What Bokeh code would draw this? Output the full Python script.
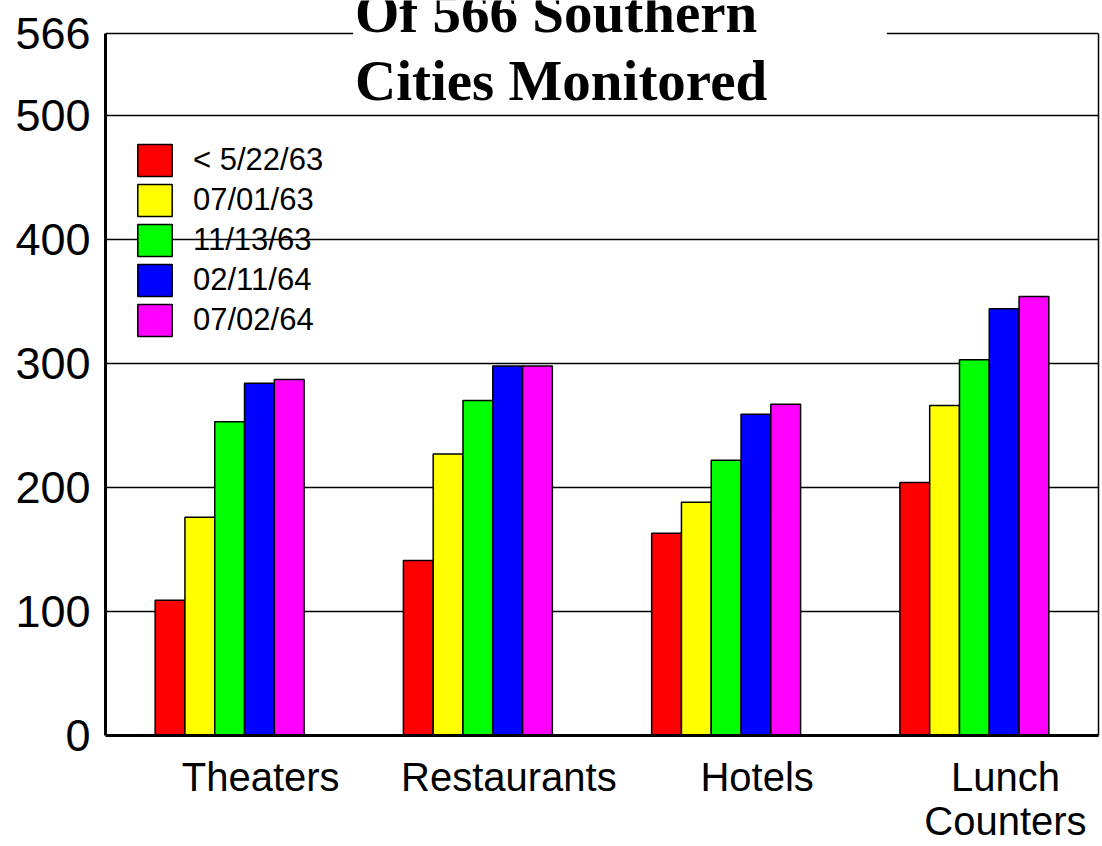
from bokeh.plotting import figure
from bokeh.models import Range1d, FixedTicker, Label, ColumnDataSource, LinearAxis
from bokeh.transform import dodge
from bokeh.embed import file_html
from bokeh.resources import INLINE

# ---- data ----
categories = ["Theaters", "Restaurants", "Hotels", "Lunch\nCounters"]
series_labels = ["< 5/22/63", "07/01/63", "11/13/63", "02/11/64", "07/02/64"]
before_05_22_63 = [109, 141, 163, 204]
on_07_01_63 = [176, 227, 188, 266]
on_11_13_63 = [253, 270, 222, 303]
on_02_11_64 = [284, 298, 259, 344]
on_07_02_64 = [287, 298, 267, 354]
y_ticks = [0, 100, 200, 300, 400, 500, 566]
total_cities = 566
title_lines = ["Of 566 Southern", "Cities Monitored"]

series_values = [before_05_22_63, on_07_01_63, on_11_13_63, on_02_11_64, on_07_02_64]
colors = ["#FF0000", "#FFFF00", "#00FF00", "#0000FF", "#FF00FF"]

SANS = "Liberation Sans"
SERIF = "Liberation Serif"

source = ColumnDataSource(dict(
    idx=list(range(len(categories))),
    **{f"s{k}": vals for k, vals in enumerate(series_values)},
))

# layout: frame from page top to y=735; value 566 sits 33 px below the page top
frame_h = 735
top_gap = 33
y_top = total_cities * frame_h / (frame_h - top_gap)

x_start, x_end = -0.5, len(categories) - 0.5
p = figure(width=1102, height=846,
           x_range=Range1d(x_start, x_end), y_range=Range1d(0, y_top),
           output_backend="svg", toolbar_location=None,
           min_border_left=105, min_border_right=4,
           min_border_top=0, min_border_bottom=111,
           outline_line_color=None, background_fill_color="white",
           border_fill_color="white")

bar_w = 0.12
n = len(series_values)
for k in range(n):
    off = (k - (n - 1) / 2) * bar_w
    p.vbar(x=dodge("idx", off), top=f"s{k}", width=bar_w, source=source,
           fill_color=colors[k], line_color="black", line_width=1.5,
           legend_label=series_labels[k])

# axes
xa = p.xaxis[0]
label_shift = 0.125
xa.ticker = FixedTicker(ticks=[i + label_shift for i in range(len(categories))])
xa.major_label_overrides = {i + label_shift: c for i, c in enumerate(categories)}
xa.major_tick_line_color = None
xa.minor_tick_line_color = None
xa.axis_line_color = "black"
xa.axis_line_width = 3
xa.major_label_text_font = SANS
xa.major_label_text_font_size = "40px"
xa.major_label_text_color = "black"
xa.major_label_text_line_height = 1.0
xa.major_label_standoff = 13

ya = p.yaxis[0]
ya.ticker = FixedTicker(ticks=y_ticks)
ya.bounds = (0, total_cities)
ya.major_tick_line_color = None
ya.minor_tick_line_color = None
ya.axis_line_color = "black"
ya.axis_line_width = 3
ya.major_label_text_font = SANS
ya.major_label_text_font_size = "45px"
ya.major_label_text_color = "black"
ya.major_label_standoff = 9

right = LinearAxis(ticker=FixedTicker(ticks=[]), bounds=(0, total_cities),
                   axis_line_color="black", axis_line_width=1.5,
                   major_tick_line_color=None, minor_tick_line_color=None,
                   major_label_text_font_size="0px")
p.add_layout(right, "right")

p.xgrid.visible = False
p.ygrid.ticker = FixedTicker(ticks=y_ticks[1:-1])
p.ygrid.grid_line_color = "black"
p.ygrid.grid_line_width = 1.5

# top edge of the frame, broken by the title
p.segment(x0=[x_start, 2.648], x1=[0.4975, x_end],
          y0=[total_cities, total_cities], y1=[total_cities, total_cities],
          line_color="black", line_width=1.5)

# title (two lines, left aligned)
title_x = 0.505
for t, yy in zip(title_lines, [583.0, 528.2]):
    p.add_layout(Label(x=title_x, y=yy, text=t,
                       text_font=SERIF, text_font_style="bold", text_font_size="57px",
                       text_color="black", text_align="left", text_baseline="alphabetic"))

# legend
lg = p.legend[0]
lg.location = (28, 395)
lg.padding = 0
lg.margin = 0
lg.spacing = 0
lg.glyph_width = 43
lg.glyph_height = 40
lg.label_standoff = 17
lg.label_text_font = SANS
lg.label_text_font_size = "31px"
lg.label_text_color = "black"
lg.border_line_color = None
lg.background_fill_alpha = 0

open("out.html", "w").write(file_html(p, INLINE))
